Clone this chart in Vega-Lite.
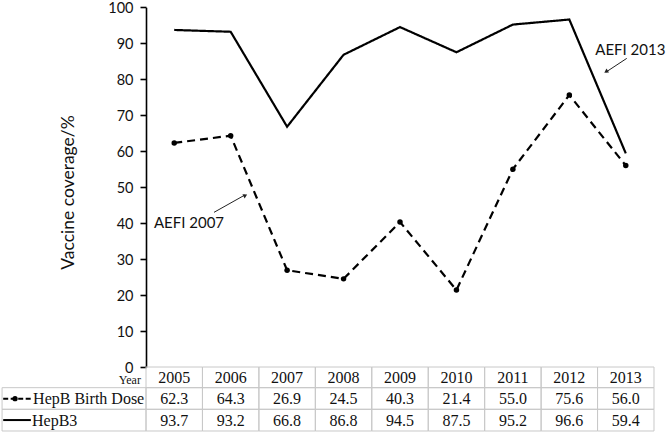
{
  "$schema": "https://vega.github.io/schema/vega-lite/v6.json",
  "width": 669,
  "height": 433,
  "autosize": "none",
  "padding": 0,
  "background": "white",
  "config": {"view": {"stroke": null}},
  "datasets": {
    "coverage": [
      {"year": 2005, "series": "HepB Birth Dose", "value": 62.3},
      {"year": 2006, "series": "HepB Birth Dose", "value": 64.3},
      {"year": 2007, "series": "HepB Birth Dose", "value": 26.9},
      {"year": 2008, "series": "HepB Birth Dose", "value": 24.5},
      {"year": 2009, "series": "HepB Birth Dose", "value": 40.3},
      {"year": 2010, "series": "HepB Birth Dose", "value": 21.4},
      {"year": 2011, "series": "HepB Birth Dose", "value": 55.0},
      {"year": 2012, "series": "HepB Birth Dose", "value": 75.6},
      {"year": 2013, "series": "HepB Birth Dose", "value": 56.0},
      {"year": 2005, "series": "HepB3", "value": 93.7},
      {"year": 2006, "series": "HepB3", "value": 93.2},
      {"year": 2007, "series": "HepB3", "value": 66.8},
      {"year": 2008, "series": "HepB3", "value": 86.8},
      {"year": 2009, "series": "HepB3", "value": 94.5},
      {"year": 2010, "series": "HepB3", "value": 87.5},
      {"year": 2011, "series": "HepB3", "value": 95.2},
      {"year": 2012, "series": "HepB3", "value": 96.6},
      {"year": 2013, "series": "HepB3", "value": 59.4}
    ],
    "one": [{}]
  },
  "layer": [
    {
      "data": {"name": "coverage"},
      "transform": [{"filter": "datum.series === 'HepB3'"}],
      "mark": {"type": "rect", "width": 56.44, "fill": "white", "fillOpacity": 0, "stroke": "#c8c8c8", "strokeWidth": 1},
      "encoding": {
        "x": {"field": "year", "type": "quantitative", "scale": {"domain": [2004.5, 2013.5], "range": [146, 654], "padding": 0, "zero": false, "nice": false}, "axis": null},
        "y": {"datum": 0, "type": "quantitative", "scale": {"domain": [0, 100], "range": [367, 7.3], "padding": 0, "zero": false, "nice": false},
          "axis": {"values": [0, 10, 20, 30, 40, 50, 60, 70, 80, 90, 100], "offset": -146, "grid": false,
            "title": "Vaccine coverage/%", "titleFont": "Lato", "titleFontSize": 17.5, "titleFontWeight": "normal", "titleColor": "#111", "titlePadding": 30, "titleY": 192,
            "labelFont": "Lato", "labelFontSize": 14.5, "labelColor": "#111", "labelPadding": 7, "labelOffset": 1,
            "domainColor": "#000", "domainWidth": 1.6, "tickColor": "#000", "tickWidth": 1.6, "tickSize": 6}},
        "y2": {"datum": -5.75}
      }
    },
    {
      "data": {"name": "coverage"},
      "transform": [{"filter": "datum.series === 'HepB Birth Dose'"}],
      "mark": {"type": "rect", "width": 56.44, "fill": "white", "fillOpacity": 0, "stroke": "#c8c8c8", "strokeWidth": 1},
      "encoding": {
        "x": {"field": "year", "type": "quantitative"},
        "y": {"datum": -5.75, "type": "quantitative"},
        "y2": {"datum": -11.76}
      }
    },
    {
      "data": {"name": "coverage"},
      "transform": [{"filter": "datum.series === 'HepB3'"}],
      "mark": {"type": "rect", "width": 56.44, "fill": "white", "fillOpacity": 0, "stroke": "#c8c8c8", "strokeWidth": 1},
      "encoding": {
        "x": {"field": "year", "type": "quantitative"},
        "y": {"datum": -11.76, "type": "quantitative"},
        "y2": {"datum": -17.79}
      }
    },
    {
      "data": {"name": "one"},
      "mark": {"type": "rect", "fill": "white", "fillOpacity": 0, "stroke": "#c8c8c8", "strokeWidth": 1},
      "encoding": {
        "x": {"datum": 2001.95, "type": "quantitative"},
        "x2": {"datum": 2004.5},
        "y": {"datum": -5.75, "type": "quantitative"},
        "y2": {"datum": -11.76}
      }
    },
    {
      "data": {"name": "one"},
      "mark": {"type": "rect", "fill": "white", "fillOpacity": 0, "stroke": "#c8c8c8", "strokeWidth": 1},
      "encoding": {
        "x": {"datum": 2001.95, "type": "quantitative"},
        "x2": {"datum": 2004.5},
        "y": {"datum": -11.76, "type": "quantitative"},
        "y2": {"datum": -17.79}
      }
    },
    {
      "data": {"name": "coverage"},
      "transform": [{"filter": "datum.series === 'HepB3'"}],
      "mark": {"type": "text", "font": "Liberation Serif", "fontSize": 16, "color": "#111", "baseline": "middle", "align": "center"},
      "encoding": {
        "x": {"field": "year", "type": "quantitative"},
        "y": {"datum": -3.1, "type": "quantitative"},
        "text": {"field": "year", "type": "nominal"}
      }
    },
    {
      "data": {"name": "coverage"},
      "transform": [{"filter": "datum.series === 'HepB Birth Dose'"}],
      "mark": {"type": "text", "font": "Liberation Serif", "fontSize": 16, "color": "#111", "baseline": "middle", "align": "center"},
      "encoding": {
        "x": {"field": "year", "type": "quantitative"},
        "y": {"datum": -8.9, "type": "quantitative"},
        "text": {"field": "value", "type": "quantitative", "format": ".1f"}
      }
    },
    {
      "data": {"name": "coverage"},
      "transform": [{"filter": "datum.series === 'HepB3'"}],
      "mark": {"type": "text", "font": "Liberation Serif", "fontSize": 16, "color": "#111", "baseline": "middle", "align": "center"},
      "encoding": {
        "x": {"field": "year", "type": "quantitative"},
        "y": {"datum": -14.9, "type": "quantitative"},
        "text": {"field": "value", "type": "quantitative", "format": ".1f"}
      }
    },
    {
      "data": {"name": "one"},
      "mark": {"type": "text", "font": "Liberation Serif", "fontSize": 12, "color": "#111", "baseline": "bottom", "align": "right"},
      "encoding": {
        "x": {"datum": 2004.41, "type": "quantitative"},
        "y": {"datum": -5.65, "type": "quantitative"},
        "text": {"value": "Year"}
      }
    },
    {
      "data": {"name": "one"},
      "mark": {"type": "text", "font": "Liberation Serif", "fontSize": 16, "color": "#111", "baseline": "middle", "align": "left"},
      "encoding": {
        "x": {"datum": 2002.5, "type": "quantitative"},
        "y": {"datum": -8.9, "type": "quantitative"},
        "text": {"value": "HepB Birth Dose"}
      }
    },
    {
      "data": {"name": "one"},
      "mark": {"type": "text", "font": "Liberation Serif", "fontSize": 16, "color": "#111", "baseline": "middle", "align": "left"},
      "encoding": {
        "x": {"datum": 2002.48, "type": "quantitative"},
        "y": {"datum": -14.9, "type": "quantitative"},
        "text": {"value": "HepB3"}
      }
    },
    {
      "data": {"name": "one"},
      "mark": {"type": "rule", "color": "#000", "strokeWidth": 2, "strokeDash": [5, 2.5]},
      "encoding": {
        "x": {"datum": 2001.97, "type": "quantitative"},
        "x2": {"datum": 2002.47},
        "y": {"datum": -8.8, "type": "quantitative"}
      }
    },
    {
      "data": {"name": "one"},
      "mark": {"type": "point", "filled": true, "color": "#000", "size": 28, "opacity": 1},
      "encoding": {
        "x": {"datum": 2002.18, "type": "quantitative"},
        "y": {"datum": -8.8, "type": "quantitative"}
      }
    },
    {
      "data": {"name": "one"},
      "mark": {"type": "rule", "color": "#000", "strokeWidth": 2},
      "encoding": {
        "x": {"datum": 2001.97, "type": "quantitative"},
        "x2": {"datum": 2002.46},
        "y": {"datum": -14.75, "type": "quantitative"}
      }
    },
    {
      "data": {"name": "coverage"},
      "mark": {"type": "line", "color": "#000", "strokeWidth": 2.2},
      "encoding": {
        "x": {"field": "year", "type": "quantitative"},
        "y": {"field": "value", "type": "quantitative"},
        "detail": {"field": "series"},
        "strokeDash": {"field": "series", "type": "nominal", "scale": {"domain": ["HepB Birth Dose", "HepB3"], "range": [[8, 5], [1, 0]]}, "legend": null}
      }
    },
    {
      "data": {"name": "coverage"},
      "transform": [{"filter": "datum.series === 'HepB Birth Dose'"}],
      "mark": {"type": "point", "filled": true, "color": "#000", "size": 30, "opacity": 1},
      "encoding": {
        "x": {"field": "year", "type": "quantitative"},
        "y": {"field": "value", "type": "quantitative"}
      }
    },
    {
      "data": {"name": "one"},
      "mark": {"type": "rule", "color": "#222", "strokeWidth": 1},
      "encoding": {
        "x": {"datum": 2005.705, "type": "quantitative"},
        "x2": {"datum": 2006.25},
        "y": {"datum": 43.0, "type": "quantitative"},
        "y2": {"datum": 47.8}
      }
    },
    {
      "data": {"name": "one"},
      "mark": {"type": "point", "shape": "triangle-up", "filled": true, "color": "#222", "size": 22, "opacity": 1, "angle": 61.6},
      "encoding": {
        "x": {"datum": 2006.26, "type": "quantitative"},
        "y": {"datum": 47.7, "type": "quantitative"}
      }
    },
    {
      "data": {"name": "one"},
      "mark": {"type": "rule", "color": "#222", "strokeWidth": 1},
      "encoding": {
        "x": {"datum": 2013.017, "type": "quantitative"},
        "x2": {"datum": 2012.65},
        "y": {"datum": 85.8, "type": "quantitative"},
        "y2": {"datum": 82.0}
      }
    },
    {
      "data": {"name": "one"},
      "mark": {"type": "point", "shape": "triangle-up", "filled": true, "color": "#222", "size": 22, "opacity": 1, "angle": 237.3},
      "encoding": {
        "x": {"datum": 2012.65, "type": "quantitative"},
        "y": {"datum": 82.1, "type": "quantitative"}
      }
    },
    {
      "data": {"name": "one"},
      "mark": {"type": "text", "font": "Lato", "fontSize": 15, "color": "#111", "baseline": "middle", "align": "left"},
      "encoding": {
        "x": {"datum": 2004.64, "type": "quantitative"},
        "y": {"datum": 40.0, "type": "quantitative"},
        "text": {"value": "AEFI 2007"}
      }
    },
    {
      "data": {"name": "one"},
      "mark": {"type": "text", "font": "Lato", "fontSize": 15, "color": "#111", "baseline": "middle", "align": "center"},
      "encoding": {
        "x": {"datum": 2013.08, "type": "quantitative"},
        "y": {"datum": 88.1, "type": "quantitative"},
        "text": {"value": "AEFI 2013"}
      }
    }
  ]
}
